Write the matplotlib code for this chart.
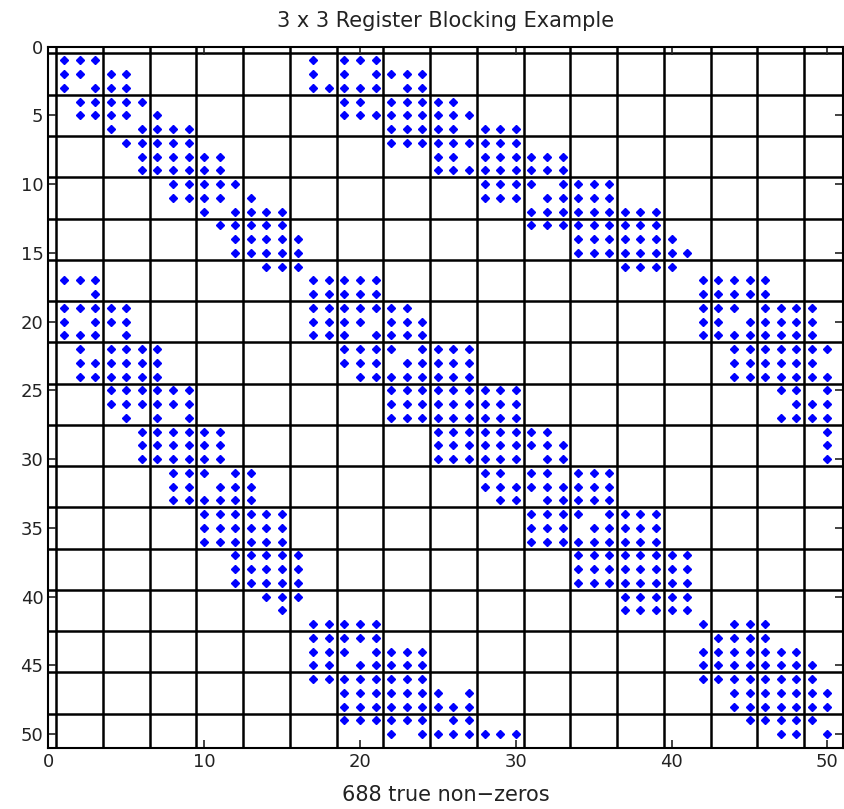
import numpy as np
import matplotlib
matplotlib.use('Agg')
import matplotlib.pyplot as plt

plt.rcParams.update({'font.size': 13, 'font.family': 'DejaVu Sans'})

# column indices of the non-zeros, one string per matrix row (rows 1..50)
row_pattern = [
    "1-3,17,19-21",
    "1,2,4,5,17,19,21-24",
    "1,3-5,17-21,23,24",
    "2-6,19,20,22-26",
    "2-5,7,19-27",
    "4,6-9,22-26,28-30",
    "5-9,22-30",
    "6-11,25,26,28-33",
    "6-11,25-33",
    "8-12,28-31,33-36",
    "8-11,13,28-30,32-36",
    "10,12-15,31-39",
    "11-15,31-39",
    "12-16,34-40",
    "12-16,34-41",
    "14-16,37-40",
    "1-3,17-21,42-46",
    "3,17-21,42-46",
    "1-5,17-23,42-44,46-49",
    "1,3-5,17-20,22-24,42,43,45-49",
    "1-3,5,17-19,21-24,42-49",
    "2,4-7,19-22,24-27,44-50",
    "2-7,19-21,23-27,44-49",
    "2-7,20-27,44-50",
    "4-9,22-30,47,48,50",
    "4-9,22-30,48-50",
    "5,7,9,22-30,47-50",
    "6-11,25-32,50",
    "6-11,25-33,50",
    "6-11,25-30,32,33,50",
    "8-10,12,13,28,29,31,32,34-36",
    "8,9,11-13,28-36",
    "8-13,29,30,32-36",
    "10-15,31-34,36-39",
    "10-15,31-33,35-39",
    "10-15,31-39",
    "12-16,34-41",
    "12-16,34-41",
    "12-16,34-41",
    "14-16,37-41",
    "15,37-41",
    "17-21,42,44-46",
    "17-21,43-46",
    "17-19,21-24,42-48",
    "17,18,20-24,42-49",
    "17-24,42-49",
    "19-25,27,44-50",
    "19-27,44-50",
    "19-24,26,27,45-49",
    "22,24-30,47,48,50",
]
n = 50
block = 3
x_ticks = [0, 10, 20, 30, 40, 50]
y_ticks = [0, 5, 10, 15, 20, 25, 30, 35, 40, 45, 50]


def parse_cols(s):
    out = []
    for part in s.split(','):
        if '-' in part:
            a, b = part.split('-')
            out.extend(range(int(a), int(b) + 1))
        else:
            out.append(int(part))
    return out


rows, cols = [], []
for i, s in enumerate(row_pattern):
    c = parse_cols(s)
    cols.extend(c)
    rows.extend([i + 1] * len(c))
nnz = len(rows)

fig = plt.figure(figsize=(8.44, 8.09), dpi=100)
ax = fig.add_axes([0.0573, 0.0754, 0.9415, 0.867])

# block boundaries
for p in np.arange(0.5, n, block):
    ax.axvline(p, color='k', lw=1.8, zorder=1)
    ax.axhline(p, color='k', lw=1.8, zorder=1)

ax.plot(cols, rows, linestyle='none', marker='D', ms=4.5, color='blue',
        mec='blue', zorder=3)

ax.set_xlim(0, n + 1)
ax.set_ylim(n + 1, 0)
ax.set_xticks(x_ticks)
ax.set_yticks(y_ticks)
ax.tick_params(direction='in', length=6, width=1.2, top=True, right=True,
               labelsize=13, colors='#222222')
for sp in ax.spines.values():
    sp.set_linewidth(1.5)

ax.set_title('3 x 3 Register Blocking Example', fontsize=15, pad=14,
             color='#222222')
ax.set_xlabel('%d true non\u2212zeros' % nnz, fontsize=15, labelpad=10,
              color='#222222')

fig.savefig('out.png', dpi=100)
